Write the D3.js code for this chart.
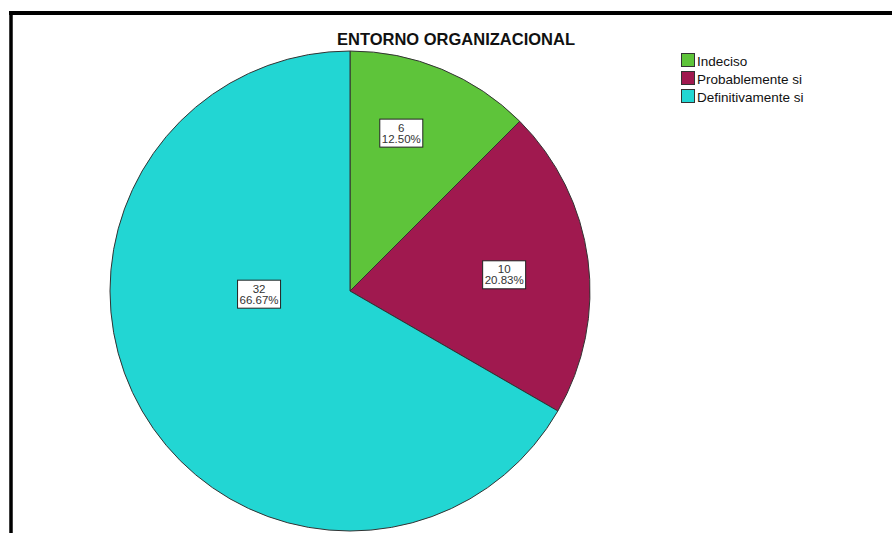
<!DOCTYPE html>
<html>
<head>
<meta charset="utf-8">
<script src="https://d3js.org/d3.v7.min.js"></script>
<style>
  body { margin: 0; background: #fff; }
  svg { display: block; }
</style>
</head>
<body>
<div id="chart"></div>
<script>
// data
var categories = ["Indeciso", "Probablemente si", "Definitivamente si"];
var counts = [6, 10, 32];
var percents = ["12.50%", "20.83%", "66.67%"];
var colors = ["#5ec43a", "#a0194f", "#22d6d3"];

// label placement (angle in degrees clockwise from top, distance from centre)
var labelAngle = [18, 84, 268];
var labelDist = [166, 155, 91];

var width = 892, height = 533;
var cx = 350, cy = 291, radius = 240;

var svg = d3.select("#chart")
  .append("svg")
  .attr("width", width)
  .attr("height", height);

// frame
svg.append("rect").attr("x", 0).attr("y", 0).attr("width", width).attr("height", height).attr("fill", "#fff");
svg.append("line")
  .attr("x1", 9).attr("y1", 13).attr("x2", width).attr("y2", 13)
  .attr("stroke", "#000").attr("stroke-width", 4);
svg.append("line")
  .attr("x1", 11).attr("y1", 11).attr("x2", 11).attr("y2", height)
  .attr("stroke", "#000").attr("stroke-width", 3.5);

// title
svg.append("text")
  .attr("x", 456).attr("y", 45)
  .attr("text-anchor", "middle")
  .attr("font-family", "Liberation Sans, Arial, sans-serif")
  .attr("font-weight", "bold")
  .attr("font-size", 16.5)
  .attr("fill", "#111")
  .text("ENTORNO ORGANIZACIONAL");

var data = categories.map(function(c, i) {
  return { cat: c, value: counts[i], pct: percents[i], color: colors[i], i: i };
});

var pie = d3.pie().sort(null).value(function(d) { return d.value; });
var arc = d3.arc().innerRadius(0).outerRadius(radius);

var g = svg.append("g").attr("transform", "translate(" + cx + "," + cy + ")");

g.selectAll("path")
  .data(pie(data))
  .enter()
  .append("path")
  .attr("d", arc)
  .attr("fill", function(d) { return d.data.color; })
  .attr("stroke", "#333")
  .attr("stroke-width", 1);

// value labels
var lab = g.selectAll("g.lab")
  .data(data)
  .enter()
  .append("g")
  .attr("class", "lab")
  .attr("transform", function(d) {
    var a = labelAngle[d.i] * Math.PI / 180;
    var r = labelDist[d.i];
    return "translate(" + (r * Math.sin(a)) + "," + (-r * Math.cos(a)) + ")";
  });

lab.append("rect")
  .attr("x", -21.5).attr("y", -14)
  .attr("width", 43).attr("height", 28)
  .attr("fill", "#fff")
  .attr("stroke", "#222")
  .attr("stroke-width", 1);

lab.append("text")
  .attr("y", -1.5)
  .attr("text-anchor", "middle")
  .attr("font-family", "Liberation Sans, Arial, sans-serif")
  .attr("font-size", 11.5)
  .attr("fill", "#333")
  .text(function(d) { return d.value; });

lab.append("text")
  .attr("y", 9.5)
  .attr("text-anchor", "middle")
  .attr("font-family", "Liberation Sans, Arial, sans-serif")
  .attr("font-size", 11.5)
  .attr("fill", "#333")
  .text(function(d) { return d.pct; });

// legend
var leg = svg.append("g").attr("transform", "translate(681,53)");
var items = leg.selectAll("g")
  .data(data)
  .enter()
  .append("g")
  .attr("transform", function(d, i) { return "translate(0," + (i * 18) + ")"; });

items.append("rect")
  .attr("x", 0.5).attr("y", 0.5)
  .attr("width", 13).attr("height", 13)
  .attr("fill", function(d) { return d.color; })
  .attr("stroke", "#333");

items.append("text")
  .attr("x", 16).attr("y", 12.5)
  .attr("font-family", "Liberation Sans, Arial, sans-serif")
  .attr("font-size", 13.5)
  .attr("fill", "#111")
  .text(function(d) { return d.cat; });
</script>
</body>
</html>
